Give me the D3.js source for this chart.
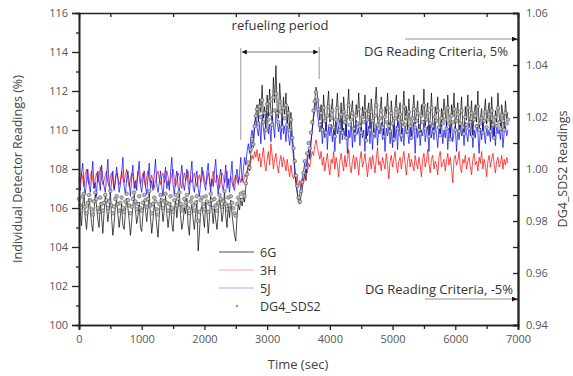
<!DOCTYPE html>
<html>
<head>
<meta charset="utf-8">
<script src="https://cdn.jsdelivr.net/npm/d3@7"></script>
<style>
  html, body { margin: 0; padding: 0; background: #fff; }
  svg { display: block; font-family: "Open Sans", "Noto Sans", sans-serif; }
  .axis path, .axis line { stroke: #222; }
  .axis text { fill: #555; font-size: 11px; font-family: "Open Sans", sans-serif; }
</style>
</head>
<body>
<div id="app"></div>
<script>
const WIDTH = 573;
const HEIGHT = 376;

// one sample every 20 s
const SAMPLE_STEP = 20;

// individual detector readings (%), left axis
const det6G = [
  106.4,105.8,105.1,106.2,106.8,105.5,104.9,105.7,106.5,106.0,
  105.2,104.8,105.9,106.7,106.1,105.4,105.0,106.3,105.6,104.7,
  105.8,106.6,106.0,105.3,105.9,106.9,105.5,104.6,105.2,106.1,
  106.4,105.7,105.0,105.6,106.2,105.1,104.9,105.8,106.5,106.0,
  105.4,104.6,105.3,106.1,106.7,105.9,105.2,105.6,106.3,105.0,
  104.8,105.7,106.4,105.9,105.3,106.0,106.8,105.5,104.7,105.4,
  106.2,105.8,105.1,104.5,105.6,106.5,106.0,105.3,105.9,106.6,
  105.7,105.0,105.6,106.3,105.2,104.8,105.9,106.4,105.5,106.1,
  106.8,105.6,104.9,105.3,106.0,105.7,106.5,105.1,104.6,105.8,
  106.2,105.4,104.9,105.7,106.4,103.8,104.7,105.9,106.1,105.6,
  105.0,106.3,105.8,104.7,105.5,106.6,105.9,105.2,106.0,105.4,
  104.9,105.7,106.5,106.1,105.3,105.8,106.9,105.6,105.0,106.2,
  105.5,106.4,105.7,105.1,104.6,104.3,105.6,106.2,105.9,106.5,
  // ramp
  106.1,106.6,106.3,107.1,107.6,108.2,107.9,108.8,109.4,109.1,110.2,110.8,111.3,
  // refueling plateau
  110.4,111.6,110.9,112.3,110.6,111.2,110.1,111.8,110.7,112.1,
  111.0,110.5,112.7,111.4,113.3,111.1,110.6,112.4,111.3,110.2,
  111.7,110.8,111.9,110.3,111.2,110.0,110.9,109.7,
  // dip
  109.0,108.1,107.4,106.8,106.3,106.2,106.6,107.0,107.4,
  // recovery
  107.8,107.4,108.3,108.9,108.5,109.4,110.1,110.8,111.5,112.2,111.8,111.2,
  // after refueling
  110.5,111.3,110.1,111.8,110.7,109.9,111.2,112.0,110.4,110.9,
  111.6,110.2,109.7,111.0,111.9,110.6,110.3,111.4,110.0,111.7,
  110.8,109.6,111.1,112.1,110.5,110.9,111.5,110.2,109.8,111.3,
  110.7,111.9,110.4,110.0,111.2,110.6,111.8,109.5,110.9,111.4,
  110.1,111.6,110.8,109.9,111.3,112.2,110.5,110.2,111.0,111.7,
  110.3,109.7,111.2,110.8,111.9,110.4,110.0,111.5,110.6,109.4,
  111.1,111.8,110.2,110.9,111.4,109.8,110.7,112.0,110.5,111.2,
  110.0,111.6,110.4,109.6,111.0,111.8,110.3,110.8,111.5,110.1,
  109.9,111.3,110.7,112.1,110.2,110.9,111.4,109.7,110.6,111.9,
  110.4,110.0,111.2,110.8,111.7,110.3,109.8,111.1,110.5,111.6,
  110.9,110.2,111.8,110.6,109.5,111.3,110.7,111.9,110.1,110.8,
  111.4,110.0,110.6,111.7,110.3,109.9,111.2,110.5,111.8,110.2,
  110.7,111.5,109.7,110.9,111.3,110.4,112.0,110.1,110.6,111.1,
  109.8,110.8,111.6,110.3,110.9,111.4,110.0,111.7,110.5,109.6,
  111.0,110.4,111.9,110.7,110.2,111.3,110.8,110.1,111.5,110.6,
  110.9
];

const det3H = [
  107.6,107.3,107.8,107.5,107.1,107.7,108.0,107.4,107.2,107.6,
  107.9,107.4,107.0,107.5,107.8,107.3,107.6,108.1,107.5,107.2,
  107.4,107.7,107.9,107.3,107.1,107.6,107.8,107.4,107.0,107.5,
  107.8,107.6,107.2,107.4,107.9,107.5,107.3,107.7,108.0,107.4,
  107.1,107.5,107.8,107.6,107.3,107.0,107.4,107.9,107.6,107.2,
  107.5,107.8,107.4,107.1,107.6,107.9,107.5,107.3,107.7,107.4,
  107.0,107.4,107.7,107.9,107.5,107.2,107.6,107.8,107.3,107.5,
  107.9,107.6,107.2,107.4,107.7,108.0,107.5,107.1,107.4,107.8,
  107.6,107.3,107.0,107.5,107.8,107.4,107.7,107.9,107.2,107.5,
  107.3,107.6,107.8,107.4,107.1,107.5,107.7,107.3,107.6,107.9,
  107.5,107.2,107.4,107.8,107.6,107.1,107.5,107.9,107.4,107.3,
  107.7,107.5,107.0,107.4,107.8,107.6,107.3,107.5,107.9,107.2,
  107.4,107.6,107.3,107.1,107.5,107.7,107.4,107.2,107.6,107.3,
  107.5,107.3,107.7,107.6,107.9,108.2,108.0,108.4,108.7,108.5,108.9,108.6,109.0,
  108.4,108.8,108.1,108.6,109.1,108.3,107.9,108.5,108.9,108.2,
  109.3,108.7,108.0,108.5,108.8,108.2,107.8,108.4,108.7,108.1,
  108.6,108.3,107.9,108.5,108.0,107.6,108.2,107.7,
  107.5,107.8,107.3,107.6,107.1,107.4,107.0,107.5,107.3,
  107.7,108.0,107.8,108.3,108.1,108.6,108.9,108.7,109.2,109.5,109.1,108.8,
  108.5,108.9,108.2,108.6,107.9,108.4,108.8,108.1,107.7,108.5,
  108.3,108.9,108.0,108.6,108.2,107.6,108.4,108.8,108.3,107.9,
  108.7,108.1,108.5,109.0,108.2,107.8,108.4,108.7,108.0,108.6,
  108.3,107.7,108.5,108.9,108.1,108.4,108.8,108.2,107.6,108.3,
  108.6,108.0,108.7,108.3,107.8,108.5,109.1,108.2,108.4,107.9,
  108.6,108.3,108.0,108.8,108.2,107.5,108.4,108.7,108.1,108.5,
  108.9,108.2,107.8,108.4,108.6,108.0,108.5,108.9,108.3,107.7,
  108.4,108.8,108.1,108.5,108.2,107.9,108.7,108.3,108.0,108.6,
  108.2,107.6,108.5,108.8,108.1,108.4,109.0,108.3,107.8,108.5,
  108.7,108.0,108.4,108.2,107.7,108.6,108.9,108.1,108.3,108.5,
  107.9,108.4,108.8,108.2,108.6,108.0,107.3,108.5,108.7,108.2,
  108.4,108.9,108.1,107.8,108.5,108.3,108.7,108.0,108.4,108.6,
  108.1,107.7,108.5,108.8,108.2,108.4,107.9,108.6,108.3,108.9,
  108.0,108.5,108.2,107.6,108.4,108.7,108.1,108.5,108.8,108.2,
  107.8,108.4,108.6,108.1,108.3,108.7,108.0,108.5,108.2,108.6,
  108.3
];

const det5J = [
  107.5,106.9,107.8,108.3,107.1,106.7,107.4,108.0,107.2,106.8,
  107.6,108.4,107.0,107.3,106.6,107.9,107.4,106.9,108.2,107.5,
  107.1,106.8,107.7,108.5,107.2,106.7,107.4,107.9,106.9,107.3,
  108.1,107.5,106.8,107.2,107.8,108.6,107.1,106.7,107.5,107.9,
  107.3,106.6,107.6,108.2,107.0,107.4,106.9,107.8,108.4,107.2,
  106.8,107.5,107.9,107.1,106.7,107.6,108.3,107.0,107.4,106.9,
  107.7,108.5,107.2,106.8,107.3,107.9,107.1,106.6,107.5,108.1,
  107.0,107.4,106.9,107.8,108.6,107.2,106.7,107.5,107.9,107.1,
  106.8,107.6,108.2,107.3,106.9,107.4,108.0,107.2,106.7,107.7,
  108.4,107.1,106.8,107.5,107.9,107.0,106.6,107.3,108.1,107.6,
  107.2,106.9,107.8,108.3,107.4,106.8,107.5,107.1,107.9,108.5,
  107.3,106.7,107.6,108.0,107.2,106.9,107.4,108.2,107.0,107.5,
  106.8,107.7,108.4,107.1,106.9,107.6,108.0,107.3,107.8,108.6,
  107.4,107.9,108.6,108.2,108.9,109.3,108.8,109.6,110.0,109.5,110.3,110.7,110.1,
  109.7,110.4,109.3,110.8,110.1,109.5,110.6,110.9,109.8,110.3,
  109.4,110.7,110.2,109.6,111.0,110.5,109.9,110.3,109.5,110.6,
  109.8,110.2,109.4,110.5,109.7,109.2,110.0,109.3,
  108.6,107.9,107.2,106.8,106.4,106.7,107.1,107.5,107.9,
  108.3,107.8,108.7,109.0,108.6,109.5,110.0,110.6,111.0,111.6,110.9,110.4,
  109.9,110.4,109.3,110.1,109.6,110.5,109.0,110.2,109.7,110.3,
  109.4,110.0,108.9,110.4,109.8,110.2,109.3,110.6,109.5,110.1,
  109.7,110.3,108.8,110.0,109.6,110.4,109.1,110.2,109.4,110.5,
  109.8,110.1,109.2,110.3,109.6,110.0,108.9,110.4,109.7,110.2,
  109.3,110.5,109.0,110.1,109.6,110.3,109.2,110.0,109.8,110.4,
  109.5,110.2,108.9,110.1,109.7,110.4,109.3,110.0,109.1,110.3,
  109.6,110.2,109.0,110.4,109.7,109.4,110.1,109.2,110.3,109.8,
  110.0,109.3,110.2,109.5,109.8,110.4,108.8,110.1,109.6,110.3,
  109.2,110.0,109.7,110.5,109.4,109.9,110.2,108.9,110.3,109.6,
  110.1,109.5,110.4,109.8,109.1,110.2,109.7,110.5,109.3,110.0,
  109.6,110.3,109.0,110.1,109.8,110.4,109.4,109.9,110.2,108.9,
  110.0,109.5,110.3,109.7,110.1,109.2,110.4,109.8,109.4,110.2,
  109.7,110.5,109.1,110.0,109.6,110.3,109.9,108.8,110.1,109.5,
  110.4,109.8,109.3,110.2,109.7,110.0,109.4,110.5,109.6,110.1,
  109.2,110.3,109.8,110.0,109.5,110.4,109.1,109.9,110.2,109.7,
  110.0
];

// DG4_SDS2 readings, right axis
const dg4SDS2 = [
  0.9885,0.9860,0.9840,0.9895,0.9905,0.9855,0.9830,0.9870,0.9900,0.9880,
  0.9845,0.9825,0.9875,0.9910,0.9885,0.9850,0.9835,0.9890,0.9865,0.9840,
  0.9870,0.9900,0.9880,0.9850,0.9875,0.9915,0.9860,0.9830,0.9855,0.9885,
  0.9895,0.9865,0.9840,0.9870,0.9890,0.9850,0.9835,0.9875,0.9905,0.9880,
  0.9860,0.9830,0.9855,0.9885,0.9910,0.9875,0.9845,0.9865,0.9895,0.9850,
  0.9840,0.9870,0.9900,0.9880,0.9855,0.9885,0.9915,0.9860,0.9830,0.9865,
  0.9890,0.9875,0.9845,0.9825,0.9865,0.9900,0.9880,0.9850,0.9875,0.9905,
  0.9870,0.9840,0.9865,0.9895,0.9850,0.9835,0.9880,0.9900,0.9860,0.9885,
  0.9910,0.9865,0.9840,0.9855,0.9885,0.9870,0.9900,0.9850,0.9830,0.9875,
  0.9890,0.9860,0.9840,0.9870,0.9895,0.9800,0.9835,0.9880,0.9890,0.9865,
  0.9845,0.9895,0.9875,0.9835,0.9865,0.9905,0.9880,0.9850,0.9885,0.9860,
  0.9840,0.9870,0.9900,0.9885,0.9855,0.9875,0.9915,0.9865,0.9845,0.9890,
  0.9860,0.9895,0.9870,0.9850,0.9830,0.9820,0.9865,0.9890,0.9880,0.9905,
  0.9880,0.9910,0.9895,0.9945,0.9980,1.0025,1.0005,1.0075,1.0115,1.0095,1.0165,1.0205,1.0230,
  1.0175,1.0240,1.0200,1.0265,1.0180,1.0215,1.0150,1.0250,1.0190,1.0260,
  1.0210,1.0170,1.0275,1.0225,1.0290,1.0215,1.0180,1.0260,1.0220,1.0160,
  1.0235,1.0195,1.0245,1.0170,1.0215,1.0150,1.0190,1.0120,
  1.0080,1.0030,0.9975,0.9935,0.9890,0.9875,0.9915,0.9950,0.9985,
  1.0030,1.0005,1.0060,1.0100,1.0080,1.0140,1.0180,1.0225,1.0260,1.0295,1.0265,1.0230,
  1.0170,1.0215,1.0150,1.0235,1.0185,1.0140,1.0205,1.0240,1.0165,1.0195,
  1.0225,1.0160,1.0125,1.0190,1.0235,1.0175,1.0150,1.0210,1.0140,1.0220,
  1.0180,1.0120,1.0200,1.0245,1.0170,1.0190,1.0215,1.0155,1.0135,1.0205,
  1.0175,1.0230,1.0165,1.0140,1.0200,1.0180,1.0225,1.0110,1.0190,1.0210,
  1.0150,1.0220,1.0185,1.0135,1.0205,1.0245,1.0170,1.0155,1.0195,1.0225,
  1.0160,1.0125,1.0200,1.0180,1.0235,1.0165,1.0145,1.0215,1.0175,1.0115,
  1.0195,1.0230,1.0155,1.0190,1.0210,1.0130,1.0180,1.0240,1.0170,1.0200,
  1.0145,1.0220,1.0165,1.0120,1.0195,1.0230,1.0160,1.0185,1.0215,1.0150,
  1.0135,1.0205,1.0180,1.0245,1.0155,1.0190,1.0215,1.0125,1.0175,1.0235,
  1.0165,1.0145,1.0200,1.0185,1.0225,1.0160,1.0130,1.0195,1.0175,1.0220,
  1.0190,1.0155,1.0235,1.0175,1.0115,1.0205,1.0180,1.0230,1.0150,1.0185,
  1.0210,1.0145,1.0175,1.0225,1.0160,1.0135,1.0200,1.0170,1.0235,1.0155,
  1.0180,1.0215,1.0125,1.0190,1.0205,1.0165,1.0240,1.0150,1.0175,1.0195,
  1.0140,1.0185,1.0220,1.0160,1.0190,1.0210,1.0145,1.0225,1.0170,1.0120,
  1.0200,1.0165,1.0235,1.0180,1.0155,1.0205,1.0185,1.0150,1.0215,1.0175,
  1.0190
];

const seriesNames = ["6G", "3H", "5J", "DG4_SDS2"];
const seriesColors = ["#000000", "#ff0000", "#0000ff", "#9a9a9a"];

const refuelStart = 2580;
const refuelEnd = 3830;
const criteriaHigh = 1.05;
const criteriaLow = 0.95;

const xTicks = [0, 1000, 2000, 3000, 4000, 5000, 6000, 7000];
const yLeftTicks = [100, 102, 104, 106, 108, 110, 112, 114, 116];
const yRightTicks = [0.94, 0.96, 0.98, 1.00, 1.02, 1.04, 1.06];

const x = d3.scaleLinear().domain([0, 7000]).range([79, 518]);
const yL = d3.scaleLinear().domain([100, 116]).range([325, 13]);
const yR = d3.scaleLinear().domain([0.94, 1.06]).range([325, 13]);

const svg = d3.select("#app").append("svg")
  .attr("width", WIDTH)
  .attr("height", HEIGHT);

svg.append("defs").append("marker")
  .attr("id", "arrow")
  .attr("viewBox", "0 0 10 10")
  .attr("refX", 10).attr("refY", 5)
  .attr("markerWidth", 6).attr("markerHeight", 5)
  .attr("markerUnits", "userSpaceOnUse")
  .attr("orient", "auto-start-reverse")
  .append("path")
  .attr("d", "M0,0 L10,5 L0,10 z")
  .attr("fill", "#111");

const tOf = (i) => i * SAMPLE_STEP;

// series, in Origin plot order
const lineL = d3.line().x((d, i) => x(tOf(i))).y((d) => yL(d));
const plot = svg.append("g").attr("id", "series");

[det6G, det3H, det5J].forEach((values, k) => {
  plot.append("path")
    .datum(values)
    .attr("fill", "none")
    .attr("stroke", seriesColors[k])
    .attr("stroke-width", 0.7)
    .attr("stroke-linejoin", "round")
    .attr("d", lineL);
});

plot.selectAll("circle.dg4")
  .data(dg4SDS2)
  .join("circle")
  .attr("class", "dg4")
  .attr("cx", (d, i) => x(tOf(i)))
  .attr("cy", (d) => yR(d))
  .attr("r", 1.8)
  .attr("fill", "#bdbdbd")
  .attr("stroke", "#3a3a3a")
  .attr("stroke-width", 0.5);

// axes
function minorTicks(domain, step) {
  return d3.range(domain[0], domain[1] + step / 2, step);
}

const axes = svg.append("g").attr("class", "axes");

axes.append("g").attr("class", "axis")
  .attr("transform", "translate(0,325)")
  .call(d3.axisBottom(x).tickValues(minorTicks([500, 6500], 1000)).tickSize(4).tickFormat(""));
axes.append("g").attr("class", "axis")
  .attr("transform", "translate(0,325)")
  .call(d3.axisBottom(x).tickValues(xTicks).tickSize(5).tickPadding(5).tickFormat(d3.format("d")));

axes.append("g").attr("class", "axis")
  .attr("transform", "translate(0,13)")
  .call(d3.axisBottom(x).tickValues(minorTicks([500, 6500], 1000)).tickSize(4).tickFormat(""));

axes.append("g").attr("class", "axis")
  .attr("transform", "translate(79,0)")
  .call(d3.axisLeft(yL).tickValues(minorTicks([101, 115], 2)).tickSize(3).tickFormat(""));
axes.append("g").attr("class", "axis")
  .attr("transform", "translate(79,0)")
  .call(d3.axisLeft(yL).tickValues(yLeftTicks).tickSize(7).tickPadding(4).tickFormat(d3.format("d")));

axes.append("g").attr("class", "axis")
  .attr("transform", "translate(518,0)")
  .call(d3.axisLeft(yR).tickValues(minorTicks([0.95, 1.05], 0.02)).tickSize(5).tickFormat(""));
axes.append("g").attr("class", "axis right")
  .attr("transform", "translate(518,0)")
  .call(d3.axisRight(yR).tickValues(yRightTicks).tickSize(0).tickPadding(8).tickFormat(d3.format(".2f")));
axes.append("g").attr("class", "axis")
  .attr("transform", "translate(518,0)")
  .call(d3.axisLeft(yR).tickValues(yRightTicks).tickSize(5).tickFormat(""));

axes.selectAll(".domain").attr("stroke-width", 1.6);
axes.selectAll(".tick line").attr("stroke-width", 1.3);

// axis titles
svg.append("text")
  .attr("transform", `translate(22,${(13 + 325) / 2}) rotate(-90)`)
  .attr("text-anchor", "middle")
  .attr("font-size", 12.5)
  .attr("fill", "#444")
  .text("Individual Detector Readings (%)");

svg.append("text")
  .attr("transform", `translate(567,${(13 + 325) / 2}) rotate(-90)`)
  .attr("text-anchor", "middle")
  .attr("font-size", 12.5)
  .attr("fill", "#444")
  .text("DG4_SDS2 Readings");

svg.append("text")
  .attr("x", 298).attr("y", 369)
  .attr("text-anchor", "middle")
  .attr("font-size", 13)
  .attr("fill", "#444")
  .text("Time (sec)");

// refueling period annotation
const ann = svg.append("g").attr("id", "annotations");

ann.append("line")
  .attr("x1", x(refuelStart)).attr("x2", x(refuelStart))
  .attr("y1", 48).attr("y2", 140)
  .attr("stroke", "#999").attr("stroke-width", 1);
ann.append("line")
  .attr("x1", x(refuelEnd)).attr("x2", x(refuelEnd))
  .attr("y1", 47).attr("y2", 79)
  .attr("stroke", "#999").attr("stroke-width", 1);
ann.append("line")
  .attr("x1", x(refuelStart) + 1).attr("x2", x(refuelEnd) - 1)
  .attr("y1", 52).attr("y2", 52)
  .attr("stroke", "#555").attr("stroke-width", 0.8)
  .attr("marker-start", "url(#arrow)")
  .attr("marker-end", "url(#arrow)");
ann.append("text")
  .attr("x", 280).attr("y", 30)
  .attr("text-anchor", "middle")
  .attr("font-size", 13)
  .attr("fill", "#333")
  .text("refueling period");

// reading criteria arrows
ann.append("line")
  .attr("x1", 405).attr("x2", 517)
  .attr("y1", yR(criteriaHigh)).attr("y2", yR(criteriaHigh))
  .attr("stroke", "#777").attr("stroke-width", 0.8)
  .attr("marker-end", "url(#arrow)");
ann.append("text")
  .attr("x", 508).attr("y", 56)
  .attr("text-anchor", "end")
  .attr("font-size", 13)
  .attr("fill", "#333")
  .text("DG Reading Criteria, 5%");

ann.append("line")
  .attr("x1", 425).attr("x2", 517)
  .attr("y1", yR(criteriaLow)).attr("y2", yR(criteriaLow))
  .attr("stroke", "#777").attr("stroke-width", 0.8)
  .attr("marker-end", "url(#arrow)");
ann.append("text")
  .attr("x", 513).attr("y", 294)
  .attr("text-anchor", "end")
  .attr("font-size", 13)
  .attr("fill", "#333")
  .text("DG Reading Criteria, -5%");

// legend
const legend = svg.append("g").attr("id", "legend");
seriesNames.forEach((name, k) => {
  const ly = 252 + k * 18;
  if (k < 3) {
    legend.append("line")
      .attr("x1", 219).attr("x2", 254)
      .attr("y1", ly).attr("y2", ly)
      .attr("stroke", seriesColors[k])
      .attr("stroke-opacity", k === 0 ? 0.7 : 0.35)
      .attr("stroke-width", 1);
  } else {
    legend.append("circle")
      .attr("cx", 237).attr("cy", ly)
      .attr("r", 1.3)
      .attr("fill", seriesColors[k]);
  }
  legend.append("text")
    .attr("x", 260).attr("y", ly + 4.5)
    .attr("font-size", 12.5)
    .attr("fill", "#333")
    .text(name);
});
</script>
</body>
</html>
